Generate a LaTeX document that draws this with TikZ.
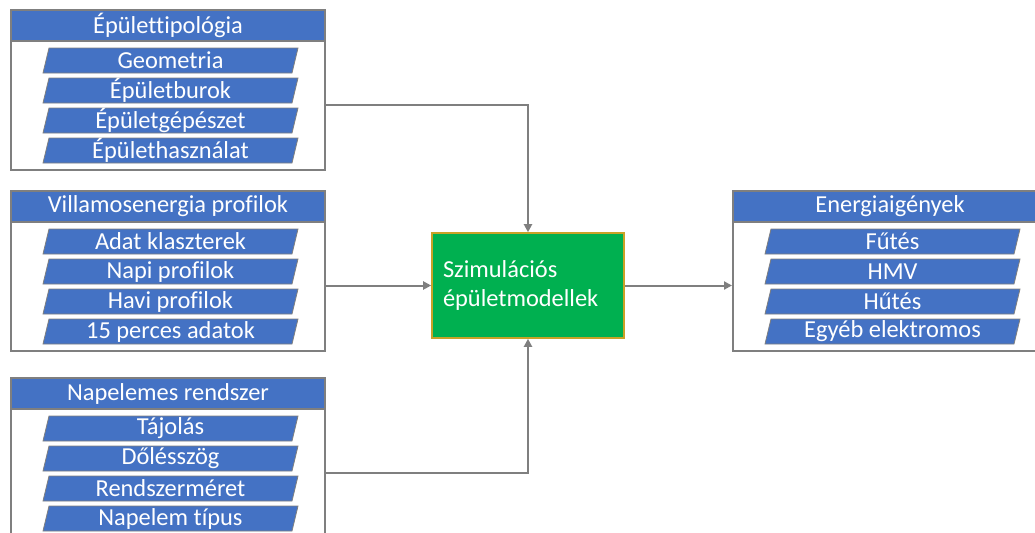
\documentclass[tikz,border=0pt]{standalone}
\usepackage{fontspec}
\setmainfont{Carlito}[Ligatures=NoCommon]
\usetikzlibrary{arrows.meta,calc}
\definecolor{kblue}{HTML}{4472C4}
\definecolor{kgray}{HTML}{7F7F7F}
\definecolor{kgreen}{HTML}{00B050}
\definecolor{kgold}{HTML}{C9A227}
\tikzset{
  frm/.style={draw=kgray,line width=1pt,minimum width=157pt,minimum height=80pt,anchor=north west,inner sep=0pt},
  hdr/.style={draw=kgray,fill=kblue,line width=1pt,minimum width=157pt,minimum height=15.5pt,anchor=north west,inner sep=0pt,text=white},
  itm/.style={draw=kgray,fill=kblue,line width=0.4pt},
  itmtxt/.style={text=white,inner sep=0pt},
  sim/.style={draw=kgold,fill=kgreen,line width=0.8pt,text=white,align=left,text width=85pt,inner xsep=5.5pt,minimum height=52.5pt},
  conn/.style={draw=kgray,line width=1pt,-{Triangle[length=4pt,width=4pt]}}
}
\begin{document}
\begin{tikzpicture}[x=0.5pt,y=-0.5pt,font=\fontsize{12.2}{14.6}\selectfont]
\useasboundingbox (0,0) rectangle (1035,532);
\foreach \bn/\bx/\by/\btl/\blst in {typ/10/9/{Épülettipológia}/{Geometria,Épületburok,Épületgépészet,Épülethasználat},
  vill/10/190/{Villamosenergia profilok}/{Adat klaszterek,Napi profilok,Havi profilok,15 perces adatok},
  pv/10/377/{Napelemes rendszer}/{Tájolás,Dőlésszög,Rendszerméret,Napelem típus},
  ener/732/190/{Energiaigények}/{Fűtés,HMV,Hűtés,Egyéb elektromos}}{
  \node[frm](\bn) at (\bx,\by){};
  \node[hdr](\bn t) at (\bx,\by){\btl};
  \foreach \ilb [count=\ky from 0] in \blst {
    \pgfmathsetmacro{\kyt}{\by+39+\ky*30}
    \draw[itm](\bx+33,\kyt+25)--(\bx+39,\kyt)--(\bx+288,\kyt)--(\bx+282,\kyt+25)--cycle;
    \node[itmtxt](\bn\ky) at (\bx+160.5,\kyt+12.5){\ilb};
  }
}
\node[sim](sim) at (528,285.5){Szimulációs\\épületmodellek};
\draw[conn]($(typ.east)+(0,15)$)-|(sim.north);
\draw[conn](vill.east|-sim.west)--(sim.west);
\draw[conn]($(pv.east)+(0,15)$)-|(sim.south);
\draw[conn](sim.east)--(sim.east-|ener.west);
\end{tikzpicture}
\end{document}
